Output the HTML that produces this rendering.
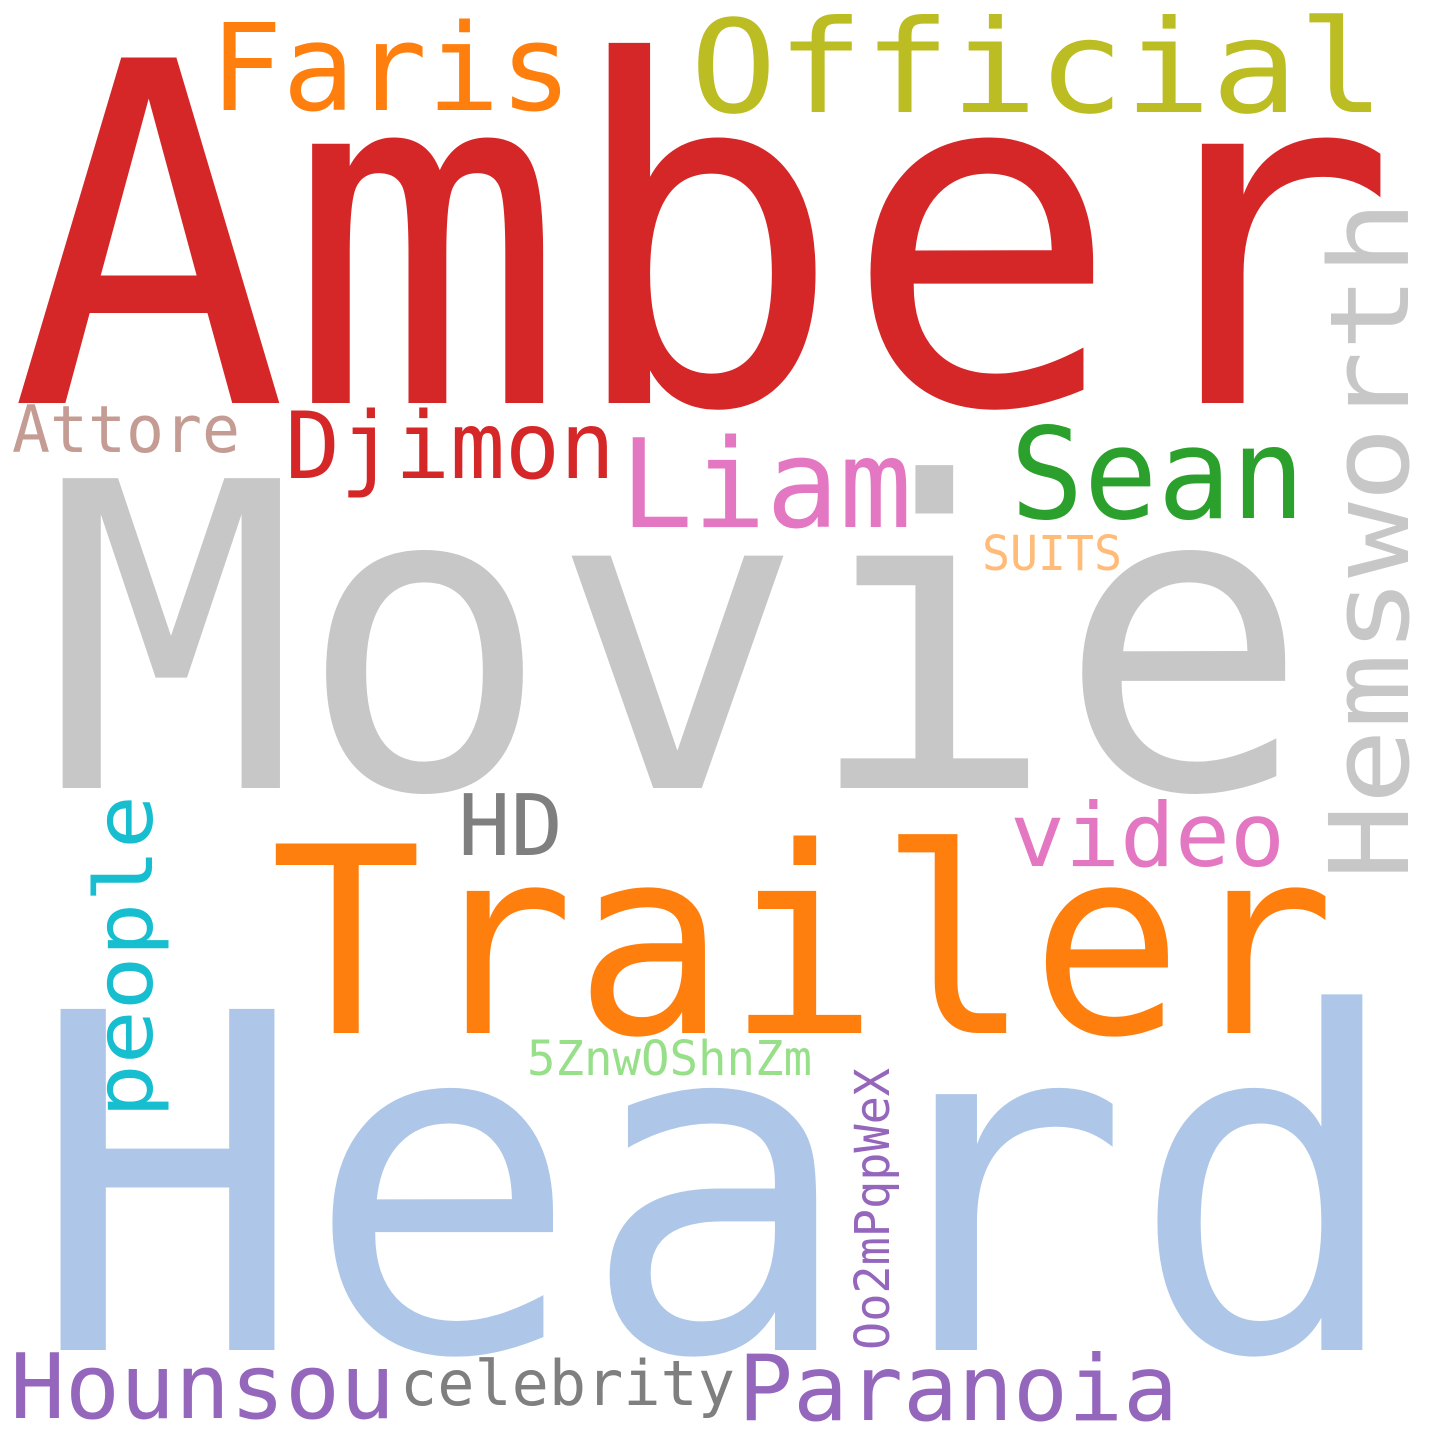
<!DOCTYPE html>
<html><head><meta charset="utf-8"><style>
html,body{margin:0;padding:0;background:#fff;}
svg text{font-family:"DejaVu Sans Mono","Liberation Mono",monospace;}
</style></head><body>
<svg width="1440" height="1440" viewBox="0 0 1440 1440">
<rect width="1440" height="1440" fill="#fff"/>
<text x="10" y="403" font-size="474" fill="#d62728" textLength="1388" lengthAdjust="spacingAndGlyphs">Amber</text>
<text x="690" y="112" font-size="129" fill="#bcbd22" textLength="695" lengthAdjust="spacingAndGlyphs">Official</text>
<text x="210" y="110" font-size="120" fill="#ff7f0e" textLength="362" lengthAdjust="spacingAndGlyphs">Faris</text>
<text transform="translate(1408,880) rotate(-90)" x="0" y="0" font-size="110" fill="#c7c7c7" textLength="680" lengthAdjust="spacingAndGlyphs">Hemsworth</text>
<text x="12" y="452" font-size="65" fill="#c49c94" textLength="228" lengthAdjust="spacingAndGlyphs">Attore</text>
<text x="285" y="478" font-size="93" fill="#d62728" textLength="330" lengthAdjust="spacingAndGlyphs">Djimon</text>
<text x="620" y="527" font-size="123" fill="#e377c2" textLength="292" lengthAdjust="spacingAndGlyphs">Liam</text>
<text x="1010" y="518" font-size="127" fill="#2ca02c" textLength="295" lengthAdjust="spacingAndGlyphs">Sean</text>
<text x="982" y="570" font-size="48" fill="#ffbb78" textLength="140" lengthAdjust="spacingAndGlyphs">SUITS</text>
<text x="45" y="788" font-size="425" fill="#c7c7c7" textLength="1265" lengthAdjust="spacingAndGlyphs">Movie</text>
<text x="458" y="855" font-size="85" fill="#7f7f7f" textLength="105" lengthAdjust="spacingAndGlyphs">HD</text>
<text x="1010" y="866" font-size="88" fill="#e377c2" textLength="275" lengthAdjust="spacingAndGlyphs">video</text>
<text x="270" y="1033" font-size="260" fill="#ff7f0e" textLength="1065" lengthAdjust="spacingAndGlyphs">Trailer</text>
<text transform="translate(152,1118) rotate(-90)" x="0" y="0" font-size="80" fill="#17becf" textLength="323" lengthAdjust="spacingAndGlyphs">people</text>
<text x="30" y="1350" font-size="468" fill="#aec7e8" textLength="1375" lengthAdjust="spacingAndGlyphs">Heard</text>
<text x="527" y="1075" font-size="48" fill="#98df8a" textLength="285" lengthAdjust="spacingAndGlyphs">5ZnwOShnZm</text>
<text transform="translate(889,1350) rotate(-90)" x="0" y="0" font-size="48" fill="#9467bd" textLength="282" lengthAdjust="spacingAndGlyphs">Oo2mPqpWeX</text>
<text x="10" y="1418" font-size="90" fill="#9467bd" textLength="385" lengthAdjust="spacingAndGlyphs">Hounsou</text>
<text x="400" y="1405" font-size="62" fill="#7f7f7f" textLength="335" lengthAdjust="spacingAndGlyphs">celebrity</text>
<text x="738" y="1420" font-size="91" fill="#9467bd" textLength="440" lengthAdjust="spacingAndGlyphs">Paranoia</text>
</svg>
</body></html>
